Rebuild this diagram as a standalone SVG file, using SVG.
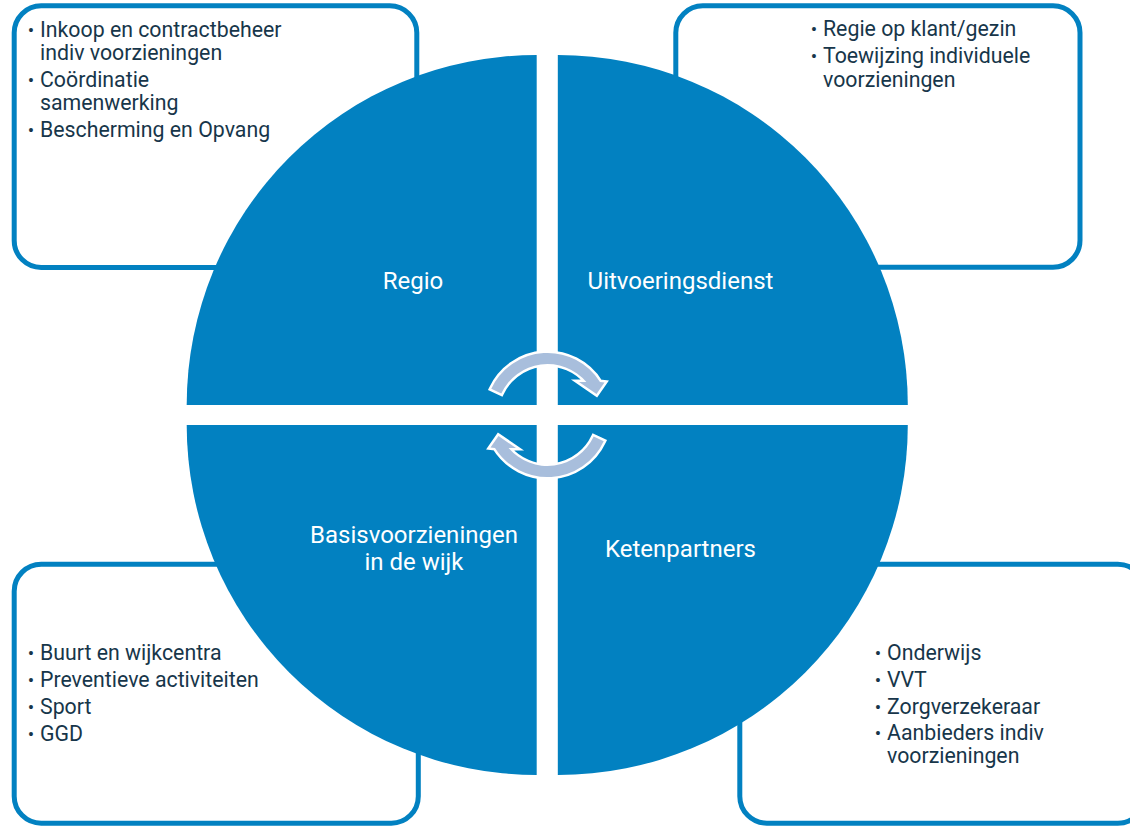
<svg xmlns="http://www.w3.org/2000/svg" width="1130" height="827" viewBox="0 0 1130 827">
  <style>
    .box { fill: #ffffff; stroke: #0281C1; stroke-width: 5; }
    .quad { fill: #0281C1; }
    .t { font-family: Roboto, "Liberation Sans", sans-serif; font-size: 21.3px; fill: #17364A; }
    .b { font-family: Roboto, "Liberation Sans", sans-serif; font-size: 19px; fill: #17364A; text-anchor: middle; }
    .lbl { font-family: Roboto, "Liberation Sans", sans-serif; font-size: 24px; fill: #ffffff; text-anchor: middle; }
    .arr { fill: #A8BEDC; stroke: #ffffff; stroke-width: 5; stroke-linejoin: miter; paint-order: stroke; }
  </style>
  <defs>
    <path id="cyc" d="M 491.3 388.8 A 62 62 0 0 1 600 382 L 604.5 382.5 L 596.5 394 L 579 382 L 586.4 382 A 51 51 0 0 0 501.3 393.4 Z"/>
  </defs>
  <rect width="1130" height="827" fill="#ffffff"/>

  <g id="box-regio">
    <rect class="box" x="14.2" y="5.8" width="402.6" height="261.7" rx="27"/>
  </g>
  <g id="box-uitvoeringsdienst">
    <rect class="box" x="675.8" y="5.8" width="404.2" height="261.5" rx="27"/>
  </g>
  <g id="box-basisvoorzieningen">
    <rect class="box" x="14.2" y="564.2" width="404.1" height="259" rx="27"/>
  </g>
  <g id="box-ketenpartners">
    <rect class="box" x="739.8" y="564.2" width="405" height="259" rx="27"/>
  </g>

  <g id="regio">
    <path class="quad" d="M 536.7 405 L 186.7 405 A 350 350 0 0 1 536.7 55 Z"/>
    <text class="lbl" x="413" y="289">Regio</text>
  </g>
  <g id="uitvoeringsdienst">
    <path class="quad" d="M 557.8 405 L 557.8 55 A 350 350 0 0 1 907.8 405 Z"/>
    <text class="lbl" x="680.5" y="289">Uitvoeringsdienst</text>
  </g>
  <g id="basisvoorzieningen">
    <path class="quad" d="M 536.7 425 L 536.7 775 A 350 350 0 0 1 186.7 425 Z"/>
    <text class="lbl" x="414" y="543">Basisvoorzieningen</text>
    <text class="lbl" x="414" y="570">in de wijk</text>
  </g>
  <g id="ketenpartners">
    <path class="quad" d="M 557.8 425 L 907.8 425 A 350 350 0 0 1 557.8 775 Z"/>
    <text class="lbl" x="680.5" y="557">Ketenpartners</text>
  </g>

  <g id="connectors">
    <use href="#cyc" class="arr"/>
    <use href="#cyc" class="arr" transform="rotate(180 547.5 415)"/>
  </g>

  <g id="list-regio">
    <text class="b" x="31" y="36.7">•</text>
    <text class="t" x="40" y="36.7">Inkoop en contractbeheer</text>
    <text class="t" x="40" y="60">indiv voorzieningen</text>
    <text class="b" x="31" y="86.7">•</text>
    <text class="t" x="40" y="86.7">Coördinatie</text>
    <text class="t" x="40" y="110">samenwerking</text>
    <text class="b" x="31" y="136.7">•</text>
    <text class="t" x="40" y="136.7">Bescherming en Opvang</text>
  </g>
  <g id="list-uitvoeringsdienst">
    <text class="b" x="814" y="36">•</text>
    <text class="t" x="823" y="36">Regie op klant/gezin</text>
    <text class="b" x="814" y="63.3">•</text>
    <text class="t" x="823" y="63.3">Toewijzing individuele</text>
    <text class="t" x="823" y="86.7">voorzieningen</text>
  </g>
  <g id="list-basisvoorzieningen">
    <text class="b" x="31" y="660">•</text>
    <text class="t" x="40" y="660">Buurt en wijkcentra</text>
    <text class="b" x="31" y="687">•</text>
    <text class="t" x="40" y="687">Preventieve activiteiten</text>
    <text class="b" x="31" y="714">•</text>
    <text class="t" x="40" y="714">Sport</text>
    <text class="b" x="31" y="741">•</text>
    <text class="t" x="40" y="741">GGD</text>
  </g>
  <g id="list-ketenpartners">
    <text class="b" x="878" y="660">•</text>
    <text class="t" x="887" y="660">Onderwijs</text>
    <text class="b" x="878" y="687">•</text>
    <text class="t" x="887" y="687">VVT</text>
    <text class="b" x="878" y="714">•</text>
    <text class="t" x="887" y="714">Zorgverzekeraar</text>
    <text class="b" x="878" y="740">•</text>
    <text class="t" x="887" y="740">Aanbieders indiv</text>
    <text class="t" x="887" y="763">voorzieningen</text>
  </g>
</svg>
